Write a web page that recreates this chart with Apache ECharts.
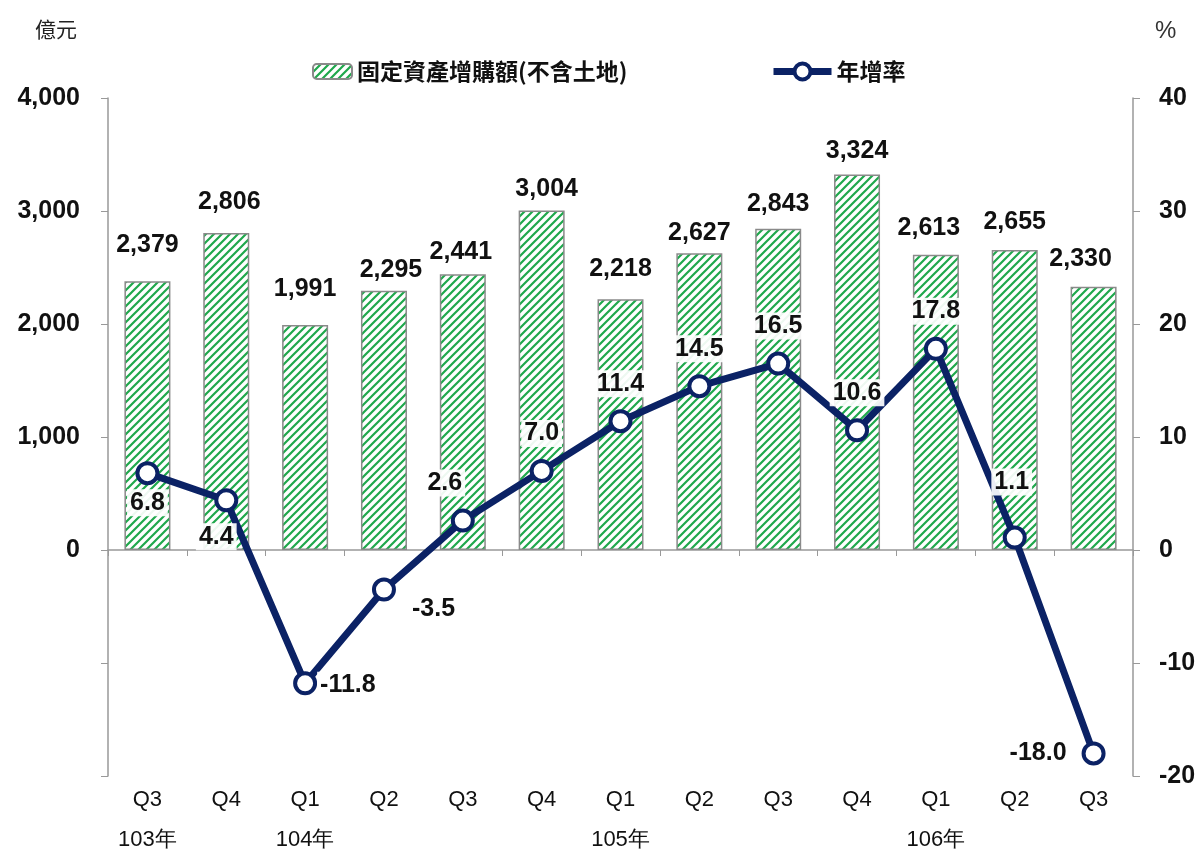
<!DOCTYPE html>
<html>
<head>
<meta charset="utf-8">
<script src="https://cdn.jsdelivr.net/npm/echarts@6/dist/echarts.min.js"></script>
<style>
  html, body { margin: 0; padding: 0; background: #fff; }
  #chart { width: 1198px; height: 853px; }
</style>
</head>
<body>
<div id="chart"></div>
<script>
// 季別與年度
const quarters = ['Q3', 'Q4', 'Q1', 'Q2', 'Q3', 'Q4', 'Q1', 'Q2', 'Q3', 'Q4', 'Q1', 'Q2', 'Q3']
const years    = ['103年', '', '104年', '', '', '', '105年', '', '', '', '106年', '', '']
// 固定資產增購額(億元)
const investAmt = [2379, 2806, 1991, 2295, 2441, 3004, 2218, 2627, 2843, 3324, 2613, 2655, 2330]
// 年增率(%)
const growthRate = [6.8, 4.4, -11.8, -3.5, 2.6, 7.0, 11.4, 14.5, 16.5, 10.6, 17.8, 1.1, -18.0]

const categories = quarters.map((q, i) => years[i] ? q + '\n' + years[i] : q)

// 斜線網底
function hatch() {
  const c = document.createElement('canvas')
  c.width = 8; c.height = 8
  const g = c.getContext('2d')
  g.fillStyle = '#fff'
  g.fillRect(0, 0, 8, 8)
  g.strokeStyle = '#1fa84c'
  g.lineWidth = 2.2
  g.beginPath()
  g.moveTo(-1, 9); g.lineTo(9, -1)
  g.moveTo(-1, 1); g.lineTo(1, -1)
  g.moveTo(7, 9); g.lineTo(9, 7)
  g.stroke()
  return c
}

const navy = '#0b2265'
const labelFont = { fontFamily: 'Liberation Sans, Arial', fontWeight: 'bold', fontSize: 25, color: '#111' }
const legendFont = { fontFamily: 'Noto Sans CJK TC', fontSize: 23, fontWeight: 'bold', color: '#111' }

// 標籤微調(原圖手動擺放)
const barLabelOff = [[0, -10], [3, -4], [0, -9], [7, 6], [-2, 4], [5, 5], [0, -4], [0, 6], [0, 2], [0, 3], [-7, 0], [0, -1], [-13, -1]]
const ratePos = [
  { position: 'bottom', offset: [0, -8] },
  { position: 'bottom', offset: [-10, -1] },
  { position: 'right', offset: [-12, 2] },
  { position: 'right', offset: [1, 20] },
  { position: 'top', offset: [-18, 0] },
  { position: 'top', offset: [0, 0] },
  { position: 'top', offset: [0, 0] },
  { position: 'top', offset: [0, 0] },
  { position: 'top', offset: [0, 0] },
  { position: 'top', offset: [0, 0] },
  { position: 'top', offset: [0, 0] },
  { position: 'top', offset: [-3, -18] },
  { position: 'left', offset: [0, 0] }
]

const chart = echarts.init(document.getElementById('chart'))
chart.setOption({
  animation: false,
  title: [
    { text: '億元', left: 30, top: 14, textStyle: { fontFamily: 'Noto Sans CJK TC', fontSize: 21, fontWeight: 'normal', color: '#222' } },
    { text: '%', left: 1150, top: 14, textStyle: { fontFamily: 'Liberation Sans, Arial', fontSize: 24, fontWeight: 'normal', color: '#333' } }
  ],
  legend: [
    {
      top: 55, left: 307,
      itemWidth: 39, itemHeight: 15, itemGap: 6,
      textStyle: legendFont,
      data: ['固定資產增購額(不含土地)']
    },
    {
      top: 55, left: 765,
      itemWidth: 58, itemHeight: 20, itemGap: 4,
      textStyle: legendFont,
      data: [{ name: '年增率', lineStyle: { width: 7 }, itemStyle: { borderWidth: 4 } }]
    }
  ],
  grid: { left: 108, right: 65, top: 98, bottom: 77, outerBoundsMode: 'none' },
  xAxis: [
    {
      type: 'category',
      data: categories,
      axisLine: { onZero: true, lineStyle: { color: '#999', width: 1.5 } },
      axisTick: { show: true, length: 6, lineStyle: { color: '#999' } },
      axisLabel: { show: false }
    },
    {
      type: 'category',
      data: categories,
      position: 'bottom',
      axisLine: { show: false, onZero: false },
      axisTick: { show: false },
      axisLabel: {
        margin: 4, lineHeight: 40,
        fontFamily: 'Liberation Sans, Arial', fontSize: 22, color: '#111'
      }
    }
  ],
  yAxis: [
    {
      type: 'value', min: -2000, max: 4000, interval: 1000,
      splitLine: { show: false },
      axisLine: { show: true, lineStyle: { color: '#999', width: 1.5 } },
      axisTick: { show: true, length: 7, lineStyle: { color: '#999' } },
      axisLabel: {
        margin: 28, ...labelFont,
        formatter: v => v < 0 ? '' : v.toLocaleString('en-US')
      }
    },
    {
      type: 'value', min: -20, max: 40, interval: 10,
      splitLine: { show: false },
      axisLine: { show: true, lineStyle: { color: '#999', width: 1.5 } },
      axisTick: { show: true, length: 7, lineStyle: { color: '#999' } },
      axisLabel: { margin: 26, ...labelFont }
    }
  ],
  series: [
    {
      name: '固定資產增購額(不含土地)',
      type: 'bar',
      barWidth: 46,
      data: investAmt.map((v, i) => ({ value: v, label: { offset: barLabelOff[i] } })),
      itemStyle: { color: { image: hatch(), repeat: 'repeat' }, borderColor: '#8a8a8a', borderWidth: 1.5 },
      label: {
        show: true, position: 'top', distance: 14, ...labelFont,
        formatter: p => p.value.toLocaleString('en-US')
      },
      z: 2
    },
    {
      name: '年增率',
      type: 'line',
      yAxisIndex: 1,
      data: growthRate.map((v, i) => ({
        value: v,
        label: ratePos[i]
      })),
      lineStyle: { color: navy, width: 7 },
      itemStyle: { color: '#fff', borderColor: navy, borderWidth: 4 },
      symbol: 'circle',
      symbolSize: 20,
      label: {
        show: true, distance: 12, ...labelFont,
        backgroundColor: 'rgba(255,255,255,0.92)', padding: [1, 3],
        formatter: p => p.value.toFixed(1)
      },
      z: 5
    }
  ]
})
</script>
</body>
</html>
